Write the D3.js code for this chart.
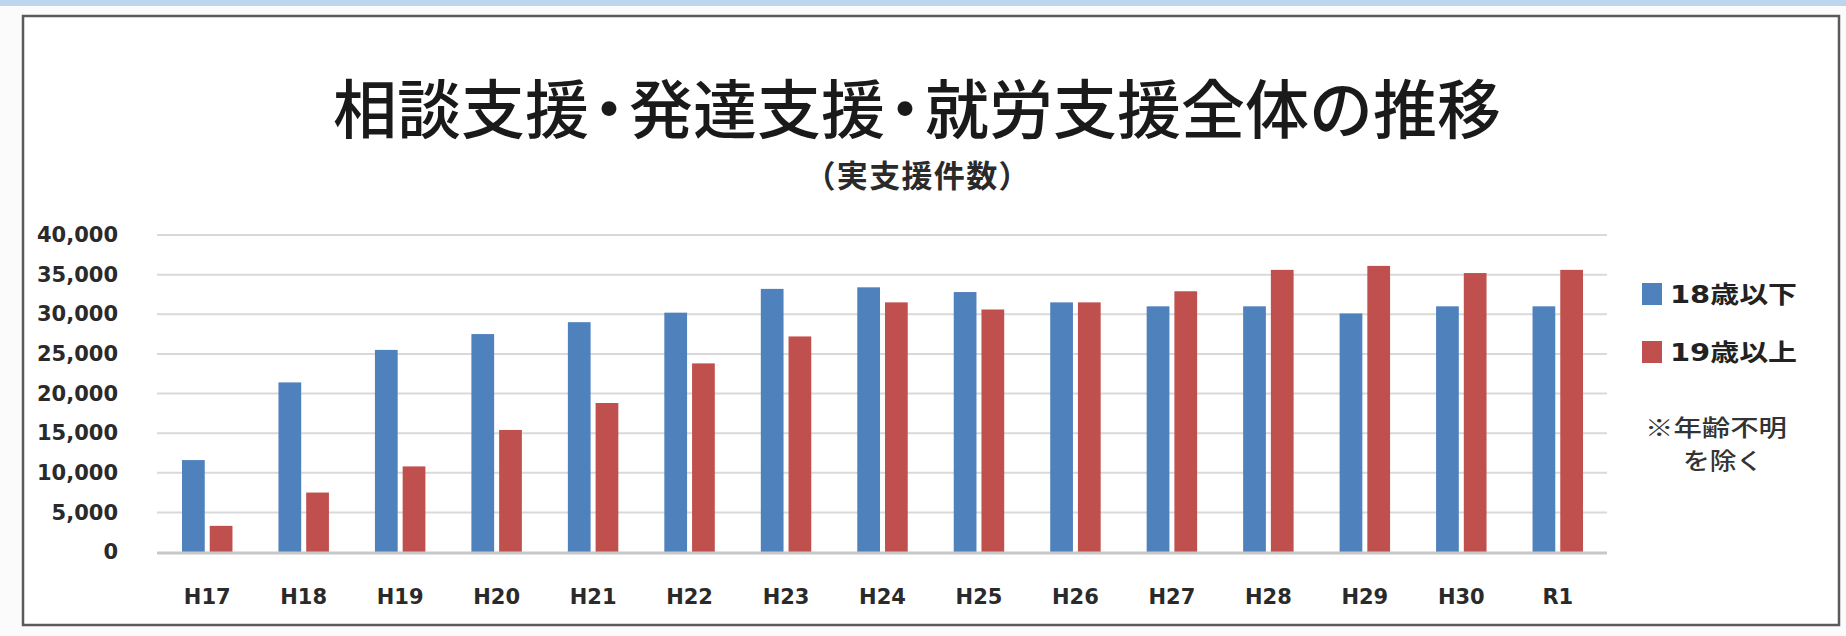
<!DOCTYPE html>
<html>
<head>
<meta charset="utf-8">
<script src="https://cdn.jsdelivr.net/npm/d3@7"></script>
<style>
  html, body { margin: 0; padding: 0; background: #ffffff; }
  svg { display: block; }
</style>
</head>
<body>
<div id="chart"></div>
<script>
// ---- data ----
const categories = ["H17","H18","H19","H20","H21","H22","H23","H24","H25","H26","H27","H28","H29","H30","R1"];
const seriesNames = ["18歳以下", "19歳以上"];
const under18 = [11600, 21400, 25500, 27500, 29000, 30200, 33200, 33400, 32800, 31500, 31000, 31000, 30100, 31000, 31000];
const over19  = [3300, 7500, 10800, 15400, 18800, 23800, 27200, 31500, 30600, 31500, 32900, 35600, 36100, 35200, 35600];
const yTicks = [0, 5000, 10000, 15000, 20000, 25000, 30000, 35000, 40000];
const titleText = "相談支援・発達支援・就労支援全体の推移";
const subtitleText = "（実支援件数）";
const noteLines = ["※年齢不明", "を除く"];

const seriesColors = ["#4f81bd", "#c0504d"];

const W = 1846, H = 636;
const svg = d3.select("#chart").append("svg").attr("width", W).attr("height", H);

// page background & top blue band
svg.append("rect").attr("x", 0).attr("y", 0).attr("width", W).attr("height", H).attr("fill", "#fbfbfb");
svg.append("rect").attr("x", 0).attr("y", 0).attr("width", W).attr("height", 6).attr("fill", "#bcd6ee");

// chart frame
svg.append("rect").attr("x", 23).attr("y", 16).attr("width", 1816).attr("height", 609)
  .attr("fill", "#ffffff").attr("stroke", "#5a5a5a").attr("stroke-width", 2.5);

// scales
const x0 = d3.scaleBand().domain(categories).range([159, 1606]).paddingInner(0).paddingOuter(0);
const groupPad = 23;
const x1 = d3.scaleBand().domain(seriesNames).range([groupPad, x0.bandwidth() - groupPad]).paddingInner(0.18);
const y = d3.scaleLinear().domain([0, 40000]).range([552, 235]);

// gridlines
svg.append("g").selectAll("line").data(yTicks.filter(d => d > 0)).join("line")
  .attr("x1", 157).attr("x2", 1607)
  .attr("y1", d => y(d)).attr("y2", d => y(d))
  .attr("stroke", "#d9d9d9").attr("stroke-width", 2);

// y axis labels
const yAxis = d3.axisLeft(y).tickValues(yTicks).tickFormat(d3.format(",")).tickSize(0).tickPadding(0);
const gy = svg.append("g").attr("transform", "translate(118,0)").call(yAxis);
gy.select(".domain").remove();
gy.selectAll("text")
  .attr("font-family", "'DejaVu Sans', sans-serif")
  .attr("font-weight", "bold")
  .attr("font-size", 21)
  .attr("fill", "#2a2a2a");

// bars
const rows = categories.map((c, i) => ({ cat: c, vals: [under18[i], over19[i]] }));
const groups = svg.append("g").selectAll("g").data(rows).join("g")
  .attr("transform", d => `translate(${x0(d.cat)},0)`);
groups.selectAll("rect").data(d => d.vals.map((v, k) => ({ k, v }))).join("rect")
  .attr("x", d => x1(seriesNames[d.k]))
  .attr("width", x1.bandwidth())
  .attr("y", d => y(d.v))
  .attr("height", d => y(0) - y(d.v))
  .attr("fill", d => seriesColors[d.k]);

// baseline
svg.append("line").attr("x1", 157).attr("x2", 1607).attr("y1", y(0) + 1).attr("y2", y(0) + 1)
  .attr("stroke", "#c8c8c8").attr("stroke-width", 3);

// x axis labels
const xAxis = d3.axisBottom(x0).tickSize(0).tickPadding(0);
const gx = svg.append("g").attr("transform", "translate(0,589)").call(xAxis);
gx.select(".domain").remove();
gx.selectAll("text")
  .attr("font-family", "'DejaVu Sans', sans-serif")
  .attr("font-weight", "bold")
  .attr("font-size", 21)
  .attr("fill", "#2a2a2a");

// title: one text element; middle dots drawn narrower via per-character dx
const titleChars = Array.from(titleText);
const titleDx = titleChars.map((c, i) => (c === "・" || (i > 0 && titleChars[i - 1] === "・")) ? -12 : 0).join(" ");
svg.append("text").attr("x", 917).attr("y", 133).attr("text-anchor", "middle")
  .attr("font-family", "'Noto Sans CJK JP', sans-serif")
  .attr("font-weight", 500)
  .attr("font-size", 64).attr("fill", "#1a1a1a")
  .attr("dx", titleDx)
  .text(titleText);

svg.append("text").attr("x", 917).attr("y", 187).attr("text-anchor", "middle")
  .attr("font-family", "'Noto Sans CJK JP', sans-serif")
  .attr("font-weight", "bold")
  .attr("font-size", 31).attr("fill", "#2a2a2a")
  .attr("textLength", 225).attr("lengthAdjust", "spacing")
  .text(subtitleText);

// legend
const legendY = [294, 352];
const lg = svg.append("g").selectAll("g").data(seriesNames).join("g");
lg.append("rect").attr("x", 1642).attr("y", (d, i) => legendY[i] - 11)
  .attr("width", 20).attr("height", 22).attr("fill", (d, i) => seriesColors[i]);
lg.append("text").attr("x", 1670).attr("y", (d, i) => legendY[i] + 9)
  .attr("font-family", "'DejaVu Sans', 'Noto Sans CJK JP', sans-serif")
  .attr("font-weight", "bold").attr("font-size", 24).attr("fill", "#222")
  .attr("textLength", 127).attr("lengthAdjust", "spacingAndGlyphs")
  .text(d => d);

// note
const noteCfg = [{ x: 1716, y: 436, len: 142 }, { x: 1723, y: 469, len: 80 }];
svg.append("g").selectAll("text").data(noteLines).join("text")
  .attr("x", (d, i) => noteCfg[i].x).attr("y", (d, i) => noteCfg[i].y)
  .attr("text-anchor", "middle")
  .attr("font-family", "'Noto Sans CJK JP', sans-serif")
  .attr("font-weight", 500).attr("font-size", 23).attr("fill", "#333")
  .attr("textLength", (d, i) => noteCfg[i].len).attr("lengthAdjust", "spacingAndGlyphs")
  .text(d => d);
</script>
</body>
</html>
